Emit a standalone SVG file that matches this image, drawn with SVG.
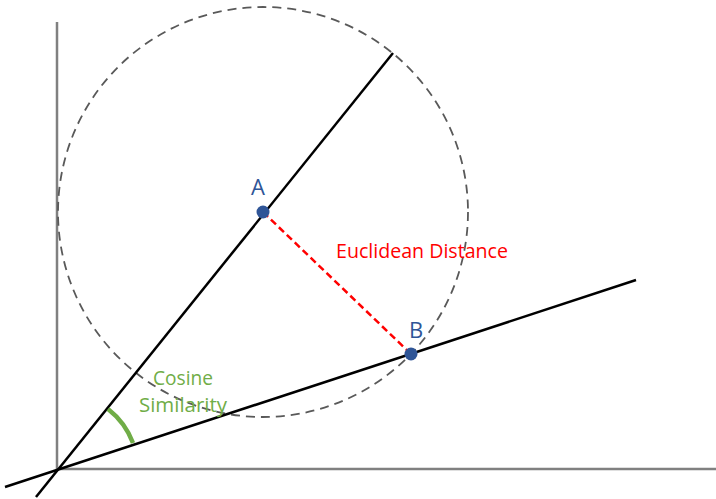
<svg xmlns="http://www.w3.org/2000/svg" width="716" height="499" viewBox="0 0 716 499">
<style>
.axis{stroke:#808080;stroke-width:2.5;fill:none}
.vec{stroke:#000;stroke-width:2.5;fill:none}
.pt{fill:#2F5597}
.lbl{font-family:"Open Sans","Liberation Sans",sans-serif;fill:#2F5597;font-size:22px}
.green{font-family:"Open Sans","Liberation Sans",sans-serif;fill:#70AD47;font-size:19.5px}
.red{font-family:"Open Sans","Liberation Sans",sans-serif;fill:#FF0000;font-size:19.5px}
</style>
<rect width="716" height="499" fill="#fff"/>
<g id="axes">
<line class="axis" x1="57" y1="22" x2="57" y2="469"/>
<line class="axis" x1="56" y1="469" x2="716" y2="469"/>
</g>
<g id="circle">
<circle cx="263" cy="212" r="205" fill="none" stroke="#595959" stroke-width="1.8" stroke-dasharray="9 6"/>
</g>
<g id="connectors">
<line class="vec" x1="36" y1="497" x2="393" y2="53"/>
<line class="vec" x1="5" y1="487" x2="636" y2="280"/>
<line x1="263" y1="212" x2="411" y2="354" stroke="#FF0000" stroke-width="2.5" stroke-dasharray="7 4"/>
<path d="M108,409 A78,78 0 0 1 133,443" fill="none" stroke="#70AD47" stroke-width="4.5"/>
</g>
<g id="nodeA">
<circle class="pt" cx="263" cy="212" r="6.5"/>
<text class="lbl" x="258" y="195" text-anchor="middle">A</text>
</g>
<g id="nodeB">
<circle class="pt" cx="411" cy="354" r="6.5"/>
<text class="lbl" x="416" y="338" text-anchor="middle">B</text>
</g>
<g id="labels">
<text class="red" x="336" y="258" textLength="172" lengthAdjust="spacingAndGlyphs">Euclidean Distance</text>
<text class="green" x="153" y="385" textLength="60" lengthAdjust="spacingAndGlyphs">Cosine</text>
<text class="green" x="139" y="412" textLength="88" lengthAdjust="spacingAndGlyphs">Similarity</text>
</g>
</svg>
